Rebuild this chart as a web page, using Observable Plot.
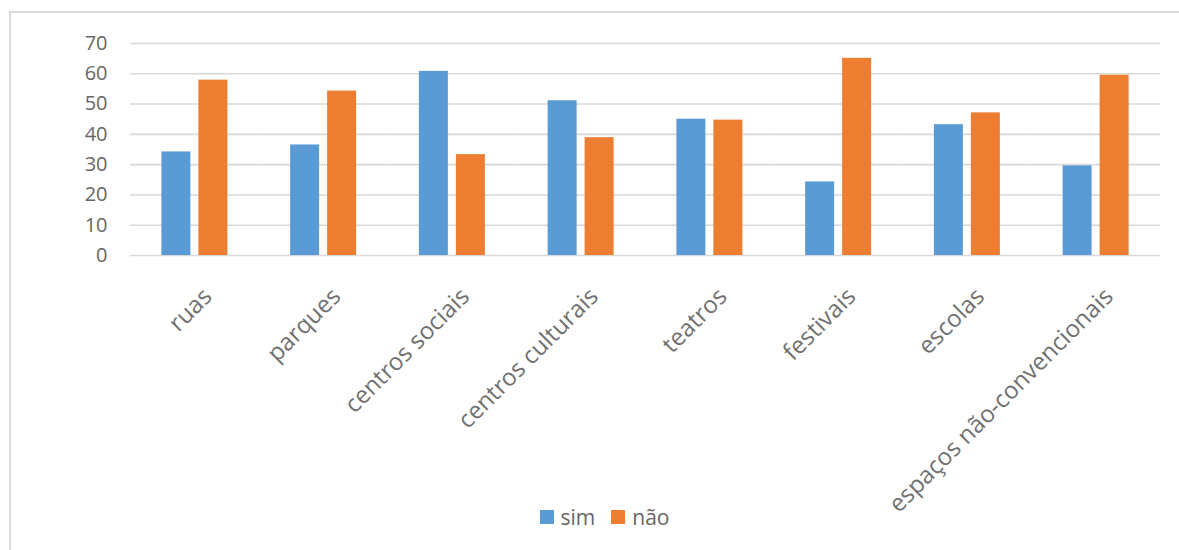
<!DOCTYPE html>
<html>
<head>
<meta charset="utf-8">
<script src="https://cdn.jsdelivr.net/npm/d3@7"></script>
<script src="https://cdn.jsdelivr.net/npm/@observablehq/plot@0.6"></script>
<style>
  html, body { margin: 0; padding: 0; background: #fff; }
  #wrap { position: relative; width: 1179px; height: 550px; overflow: hidden; font-family: "Open Sans", sans-serif; }
  #frame { position: absolute; left: 9px; top: 11px; right: -5px; bottom: -5px; border-top: 2px solid #d9d9d9; border-left: 2px solid #d9d9d9; }
  #chart { position: absolute; left: 0; top: 0; }
  #legend { position: absolute; left: 15px; width: 1179px; top: 503px; display: flex; justify-content: center; align-items: center; font-size: 21px; color: #666; }
  .item { display: flex; align-items: center; margin: 0 8px; }
  .sw { width: 14px; height: 14px; margin-right: 7px; display: inline-block; }
</style>
</head>
<body>
<div id="wrap">
  <div id="frame"></div>
  <div id="chart"></div>
  <div id="legend"></div>
</div>
<script>
const categories = ["ruas", "parques", "centros sociais", "centros culturais", "teatros", "festivais", "escolas", "espaços não-convencionais"];
const series = ["sim", "não"];
const simValues = [34.2, 36.5, 60.8, 51.1, 45.0, 24.3, 43.2, 29.6];
const naoValues = [57.9, 54.3, 33.3, 38.9, 44.7, 65.1, 47.1, 59.5];
const colors = ["#5B9BD5", "#ED7D31"];
const yTicks = [0, 10, 20, 30, 40, 50, 60, 70];

const data = categories.flatMap((c, i) => [
  {cat: c, serie: "sim", value: simValues[i]},
  {cat: c, serie: "não", value: naoValues[i]}
]);

const chart = Plot.plot({
  width: 1179,
  height: 490,
  marginTop: 43,
  marginBottom: 235,
  marginLeft: 130,
  marginRight: 19,
  style: {fontFamily: "'Open Sans', sans-serif", background: "transparent", overflow: "visible"},
  fx: {domain: categories, padding: 0, round: false, label: null},
  x: {domain: series, paddingInner: 0.216, paddingOuter: 0.848, round: false, axis: null},
  y: {domain: [0, 70], axis: null},
  color: {domain: series, range: colors},
  marks: [
    Plot.ruleY(yTicks, {stroke: "#d9d9d9", strokeWidth: 1.6}),
    Plot.barY(data, {fx: "cat", x: "serie", y: "value", fill: "serie"}),
    Plot.axisY(yTicks, {tickSize: 0, tickPadding: 23, fontSize: 20, fill: "#666", label: null, tickFormat: d => String(d)}),
    Plot.axisFx({anchor: "bottom", tickRotate: -45, tickSize: 0, tickPadding: 0, textAnchor: "end", lineAnchor: "middle", dx: 13, dy: 37, fontSize: 24, fill: "#707070", label: null})
  ]
});
document.getElementById("chart").appendChild(chart);

const legend = document.getElementById("legend");
series.forEach((s, i) => {
  const item = document.createElement("span");
  item.className = "item";
  const sw = document.createElement("span");
  sw.className = "sw";
  sw.style.background = colors[i];
  item.appendChild(sw);
  item.appendChild(document.createTextNode(s));
  legend.appendChild(item);
});
</script>
</body>
</html>
